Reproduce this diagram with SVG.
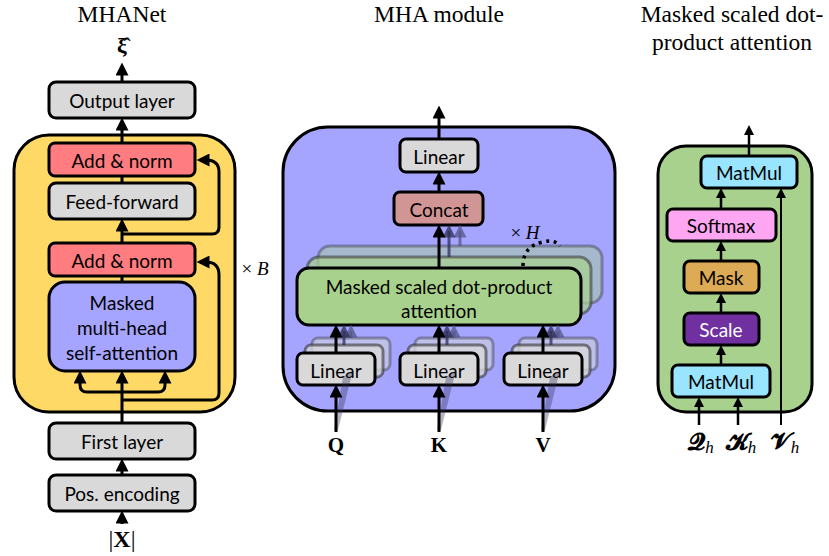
<svg xmlns="http://www.w3.org/2000/svg" width="829" height="556" viewBox="0 0 829 556">
  <style>
    .box { stroke: #000; stroke-width: 3; }
    .gray { fill: #D9D9D9; }
    .red { fill: #FF7C80; }
    .lav { fill: #A5A5FF; }
    .green { fill: #A9D18E; }
    .cyan { fill: #99E5FF; }
    .pink { fill: #FFA6F2; }
    .tan { fill: #DDAA55; }
    .purple { fill: #7030A0; }
    .rose { fill: #D19595; }
    .lbl { font-family: Lato, "Open Sans", "Liberation Sans", sans-serif; font-size: 19px; fill: #000; text-anchor: middle; dominant-baseline: central; }
    .lbl2 { font-family: Lato, "Open Sans", "Liberation Sans", sans-serif; font-size: 19px; fill: #000; text-anchor: middle; dominant-baseline: central; }
    .title { font-family: "Liberation Serif", "Times New Roman", serif; font-size: 23.5px; fill: #000; text-anchor: middle; }
    .math { font-family: "Liberation Serif", "DejaVu Serif", serif; fill: #000; text-anchor: middle; }
    .wire { fill: none; stroke: #000; stroke-width: 3; }
    .wire2 { fill: none; stroke: #000; stroke-width: 2.5; }
    .ghost1 { stroke: #2E2E55; stroke-opacity: 0.75; stroke-width: 3; }
    .ghost2 { stroke: #55558A; stroke-opacity: 0.75; stroke-width: 3; }
  </style>
  <defs>
    <marker id="ah" markerUnits="userSpaceOnUse" markerWidth="13" markerHeight="13" viewBox="0 0 12 12" refX="6" refY="6" orient="auto">
      <path d="M0,0 L12,6 L0,12 z" fill="#000"/>
    </marker>
    <marker id="ahs" markerUnits="userSpaceOnUse" markerWidth="10" markerHeight="10" viewBox="0 0 12 12" refX="6" refY="6" orient="auto">
      <path d="M0,0 L12,6 L0,12 z" fill="#000"/>
    </marker>
    <marker id="ahf1" markerUnits="userSpaceOnUse" markerWidth="13" markerHeight="13" viewBox="0 0 12 12" refX="6" refY="6" orient="auto">
      <path d="M0,0 L12,6 L0,12 z" fill="#2E2E55" fill-opacity="0.75"/>
    </marker>
    <marker id="ahf2" markerUnits="userSpaceOnUse" markerWidth="13" markerHeight="13" viewBox="0 0 12 12" refX="6" refY="6" orient="auto">
      <path d="M0,0 L12,6 L0,12 z" fill="#55558A" fill-opacity="0.75"/>
    </marker>
  </defs>

  <!-- titles -->
  <text class="title" x="122" y="22">MHANet</text>
  <text class="title" x="439" y="22">MHA module</text>
  <text class="title" x="732" y="22">Masked scaled dot-</text>
  <text class="title" x="732" y="50">product attention</text>

  <!-- ===== MHANet ===== -->
  <g id="mhanet-block">
    <rect x="14" y="135" width="221" height="277" rx="35" fill="#FFD966" class="box"/>
  </g>
  <g id="output-layer">
    <rect x="49" y="82" width="146" height="36" rx="7" class="box gray"/>
    <text class="lbl" x="122" y="100">Output layer</text>
  </g>
  <g id="add-norm-1">
    <rect x="49" y="143" width="146" height="33" rx="6" class="box red"/>
    <text class="lbl" x="122" y="160">Add &amp; norm</text>
  </g>
  <g id="feed-forward">
    <rect x="49" y="183" width="146" height="36" rx="7" class="box gray"/>
    <text class="lbl" x="122" y="201">Feed-forward</text>
  </g>
  <g id="add-norm-2">
    <rect x="49" y="243" width="146" height="33" rx="6" class="box red"/>
    <text class="lbl" x="122" y="260">Add &amp; norm</text>
  </g>
  <g id="self-attention">
    <rect x="49" y="282" width="146" height="89" rx="16" class="box lav"/>
    <text class="lbl" x="122" y="302">Masked</text>
    <text class="lbl" x="122" y="327">multi-head</text>
    <text class="lbl" x="122" y="352">self-attention</text>
  </g>
  <g id="first-layer">
    <rect x="49" y="423" width="146" height="36" rx="7" class="box gray"/>
    <text class="lbl" x="122" y="441">First layer</text>
  </g>
  <g id="pos-encoding">
    <rect x="49" y="475" width="146" height="36" rx="7" class="box gray"/>
    <text class="lbl" x="122" y="493">Pos. encoding</text>
  </g>
  <g id="mhanet-io">
    <text class="math" x="122" y="53" font-size="22" font-weight="bold">ξ̂</text>
    <text class="math" x="122" y="547" font-size="24">|<tspan font-weight="bold">X</tspan>|</text>
    <text class="math" x="255" y="275" font-size="19">× <tspan font-style="italic">B</tspan></text>
  </g>

  <!-- ===== MHA module ===== -->
  <g id="mha-block">
    <rect x="283" y="127" width="332" height="284" rx="45" class="box lav"/>
  </g>
  <g id="mha-linear-out">
    <rect x="400" y="139" width="78" height="33" rx="6" class="box gray"/>
    <text class="lbl" x="439" y="156">Linear</text>
  </g>
  <g id="concat">
    <rect x="394" y="192" width="89" height="33" rx="6" class="box rose"/>
    <text class="lbl" x="439" y="209">Concat</text>
  </g>
  <g id="attention-heads">
    <rect x="318" y="246" width="284" height="57" rx="12" fill="#A9D18E" fill-opacity="0.45" stroke="#333" stroke-opacity="0.4" stroke-width="3"/>
    <rect x="307" y="257" width="284" height="57" rx="12" fill="#A9D18E" fill-opacity="0.7" stroke="#333" stroke-opacity="0.55" stroke-width="3"/>
    <rect x="297" y="268" width="284" height="57" rx="12" class="box green"/>
    <text class="lbl" x="439" y="286" font-size="19.5">Masked scaled dot-product</text>
    <text class="lbl" x="439" y="310" font-size="19.5">attention</text>
    <text class="math" x="525" y="239" font-size="19">× <tspan font-style="italic">H</tspan></text>
    <path d="M523,266 Q523,246 543,242 Q555,239 560,246" fill="none" stroke="#000" stroke-width="3.5" stroke-dasharray="3,4.5"/>
  </g>
  <g id="linear-q">
    <rect x="312" y="338" width="78" height="32" rx="6" fill="#D9D9D9" fill-opacity="0.5" stroke="#333" stroke-opacity="0.4" stroke-width="3"/>
    <rect x="305" y="345" width="78" height="32" rx="6" fill="#D9D9D9" fill-opacity="0.75" stroke="#333" stroke-opacity="0.6" stroke-width="3"/>
    <rect x="297" y="353" width="78" height="32" rx="6" class="box gray"/>
    <text class="lbl" x="336" y="370">Linear</text>
  </g>
  <g id="linear-k">
    <rect x="415" y="338" width="78" height="32" rx="6" fill="#D9D9D9" fill-opacity="0.5" stroke="#333" stroke-opacity="0.4" stroke-width="3"/>
    <rect x="408" y="345" width="78" height="32" rx="6" fill="#D9D9D9" fill-opacity="0.75" stroke="#333" stroke-opacity="0.6" stroke-width="3"/>
    <rect x="400" y="353" width="78" height="32" rx="6" class="box gray"/>
    <text class="lbl" x="439" y="370">Linear</text>
  </g>
  <g id="linear-v">
    <rect x="519" y="338" width="78" height="32" rx="6" fill="#D9D9D9" fill-opacity="0.5" stroke="#333" stroke-opacity="0.4" stroke-width="3"/>
    <rect x="512" y="345" width="78" height="32" rx="6" fill="#D9D9D9" fill-opacity="0.75" stroke="#333" stroke-opacity="0.6" stroke-width="3"/>
    <rect x="504" y="353" width="78" height="32" rx="6" class="box gray"/>
    <text class="lbl" x="543" y="370">Linear</text>
  </g>
  <g id="mha-inputs">
    <text class="math" x="336" y="452" font-size="21" font-weight="bold">Q</text>
    <text class="math" x="439" y="452" font-size="21" font-weight="bold">K</text>
    <text class="math" x="543" y="452" font-size="21" font-weight="bold">V</text>
  </g>

  <!-- ===== Scaled dot-product attention ===== -->
  <g id="sdpa-block">
    <rect x="658" y="146" width="154" height="266" rx="28" class="box green"/>
  </g>
  <g id="matmul-top">
    <rect x="701" y="156" width="96" height="32" rx="6" class="box cyan"/>
    <text class="lbl2" x="749" y="172">MatMul</text>
  </g>
  <g id="softmax">
    <rect x="667" y="209" width="109" height="32" rx="6" class="box pink"/>
    <text class="lbl2" x="721" y="225">Softmax</text>
  </g>
  <g id="mask">
    <rect x="684" y="261" width="75" height="32" rx="6" class="box tan"/>
    <text class="lbl2" x="721" y="277">Mask</text>
  </g>
  <g id="scale">
    <rect x="684" y="313" width="75" height="32" rx="6" class="box purple"/>
    <text class="lbl2" x="721" y="329" style="fill:#fff">Scale</text>
  </g>
  <g id="matmul-bottom">
    <rect x="672" y="365" width="98" height="32" rx="6" class="box cyan"/>
    <text class="lbl2" x="721" y="381">MatMul</text>
  </g>
  <g id="sdpa-inputs">
    <text class="math" x="701" y="450" font-size="24" font-weight="bold">𝓠<tspan font-size="17" font-style="italic" font-weight="normal" dy="3">h</tspan></text>
    <text class="math" x="741" y="450" font-size="24" font-weight="bold">𝓚<tspan font-size="17" font-style="italic" font-weight="normal" dy="3">h</tspan></text>
    <text class="math" x="785" y="450" font-size="24" font-weight="bold">𝓥<tspan font-size="17" font-style="italic" font-weight="normal" dy="3">h</tspan></text>
  </g>

  <!-- ===== connectors ===== -->
  <g id="connectors">
    <!-- MHANet -->
    <line class="wire" x1="122" y1="82" x2="122" y2="69" marker-end="url(#ah)"/>
    <line class="wire" x1="122" y1="143" x2="122" y2="124" marker-end="url(#ah)"/>
    <line class="wire" x1="122" y1="183" x2="122" y2="176"/>
    <line class="wire" x1="122" y1="243" x2="122" y2="225" marker-end="url(#ah)"/>
    <line class="wire" x1="122" y1="282" x2="122" y2="276"/>
    <path class="wire" d="M122,234 H212 Q219,234 219,227 V172 Q219,160 206,160 L203,160" marker-end="url(#ah)"/>
    <line class="wire" x1="122" y1="423" x2="122" y2="377" marker-end="url(#ah)"/>
    <path class="wire" d="M122,392 H87 Q80,392 80,385 V377" marker-end="url(#ah)"/>
    <path class="wire" d="M122,392 H158 Q165,392 165,385 V377" marker-end="url(#ah)"/>
    <path class="wire" d="M122,400 H212 Q219,400 219,393 V275 Q219,262 206,262 L203,262" marker-end="url(#ah)"/>
    <line class="wire" x1="122" y1="475" x2="122" y2="465" marker-end="url(#ah)"/>
    <line class="wire" x1="122" y1="524" x2="122" y2="517" marker-end="url(#ah)"/>

    <!-- MHA module -->
    <line class="wire" x1="439" y1="139" x2="439" y2="112" marker-end="url(#ah)"/>
    <line class="wire" x1="439" y1="192" x2="439" y2="178" marker-end="url(#ah)"/>
    <line class="ghost2" x1="460" y1="246" x2="460" y2="231" marker-end="url(#ahf2)"/>
    <line class="ghost1" x1="449" y1="257" x2="449" y2="231" marker-end="url(#ahf1)"/>
    <line class="wire" x1="439" y1="268" x2="439" y2="231" marker-end="url(#ah)"/>

    <line class="ghost2" x1="351" y1="338" x2="351" y2="331" marker-end="url(#ahf2)"/>
    <line class="ghost1" x1="344" y1="345" x2="344" y2="331" marker-end="url(#ahf1)"/>
    <line class="wire" x1="336" y1="353" x2="336" y2="331" marker-end="url(#ah)"/>
    <line class="ghost2" x1="454" y1="338" x2="454" y2="331" marker-end="url(#ahf2)"/>
    <line class="ghost1" x1="447" y1="345" x2="447" y2="331" marker-end="url(#ahf1)"/>
    <line class="wire" x1="439" y1="353" x2="439" y2="331" marker-end="url(#ah)"/>
    <line class="ghost2" x1="558" y1="338" x2="558" y2="331" marker-end="url(#ahf2)"/>
    <line class="ghost1" x1="551" y1="345" x2="551" y2="331" marker-end="url(#ahf1)"/>
    <line class="wire" x1="543" y1="353" x2="543" y2="331" marker-end="url(#ah)"/>

    <!-- fan of inputs into the stacked projections -->
    <polygon points="334,430 338,430 353,370 343,377" fill="#2E2E55" fill-opacity="0.35"/>
    <polygon points="437,430 441,430 456,370 446,377" fill="#2E2E55" fill-opacity="0.35"/>
    <polygon points="541,430 545,430 560,370 550,377" fill="#2E2E55" fill-opacity="0.35"/>
    <line class="wire" x1="336" y1="432" x2="336" y2="391" marker-end="url(#ah)"/>
    <line class="wire" x1="439" y1="432" x2="439" y2="391" marker-end="url(#ah)"/>
    <line class="wire" x1="543" y1="432" x2="543" y2="391" marker-end="url(#ah)"/>

    <!-- scaled dot-product attention -->
    <line class="wire2" x1="749" y1="156" x2="749" y2="130" marker-end="url(#ahs)"/>
    <line class="wire2" x1="721" y1="209" x2="721" y2="193" marker-end="url(#ahs)"/>
    <line class="wire2" x1="721" y1="261" x2="721" y2="246" marker-end="url(#ahs)"/>
    <line class="wire2" x1="721" y1="313" x2="721" y2="298" marker-end="url(#ahs)"/>
    <line class="wire2" x1="721" y1="365" x2="721" y2="350" marker-end="url(#ahs)"/>
    <line class="wire2" x1="699" y1="425" x2="699" y2="402" marker-end="url(#ahs)"/>
    <line class="wire2" x1="738" y1="425" x2="738" y2="402" marker-end="url(#ahs)"/>
    <line x1="781" y1="425" x2="781" y2="193" stroke="#000" stroke-width="2" marker-end="url(#ahs)"/>
  </g>
</svg>
